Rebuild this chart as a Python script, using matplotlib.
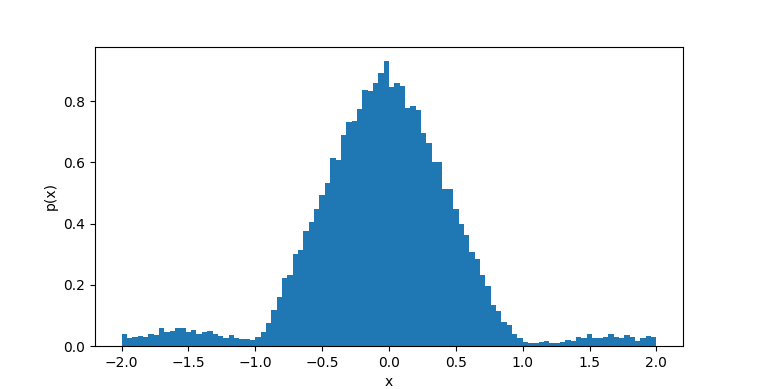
import numpy as np
import matplotlib.pyplot as plt

# bordas dos bins: -2 a 2, largura 0.04
edges = np.linspace(-2, 2, 101)

# densidade, bin a bin
dens_esq = [0.039, 0.028, 0.030, 0.033, 0.030, 0.041, 0.036, 0.059, 0.046, 0.049,
            0.059, 0.059, 0.046, 0.054, 0.039, 0.045, 0.049, 0.039, 0.033, 0.026,
            0.036, 0.026, 0.023, 0.025, 0.020, 0.029, 0.048, 0.077, 0.117, 0.159]
dens_meio = [0.224, 0.234, 0.300, 0.313, 0.375, 0.404, 0.447, 0.493, 0.533, 0.614,
             0.608, 0.690, 0.732, 0.735, 0.775, 0.837, 0.833, 0.859, 0.892, 0.931,
             0.846, 0.859, 0.850, 0.778, 0.784, 0.771, 0.696, 0.663, 0.601, 0.601,
             0.513, 0.513, 0.448, 0.399, 0.363, 0.307, 0.284, 0.232, 0.196, 0.134]
dens_dir = [0.114, 0.078, 0.069, 0.039, 0.026, 0.013, 0.010, 0.010, 0.013, 0.016,
            0.010, 0.010, 0.013, 0.020, 0.016, 0.029, 0.026, 0.039, 0.026, 0.026,
            0.029, 0.039, 0.029, 0.026, 0.036, 0.029, 0.016, 0.026, 0.033, 0.029]
dens = np.array(dens_esq + dens_meio + dens_dir)

centros = (edges[:-1] + edges[1:]) / 2

fig = plt.figure(figsize=(7.59, 3.89), dpi=100)
plt.hist(centros, bins=edges, weights=dens)
plt.xlabel('x')
plt.ylabel('p(x)')
plt.savefig('out.png')
